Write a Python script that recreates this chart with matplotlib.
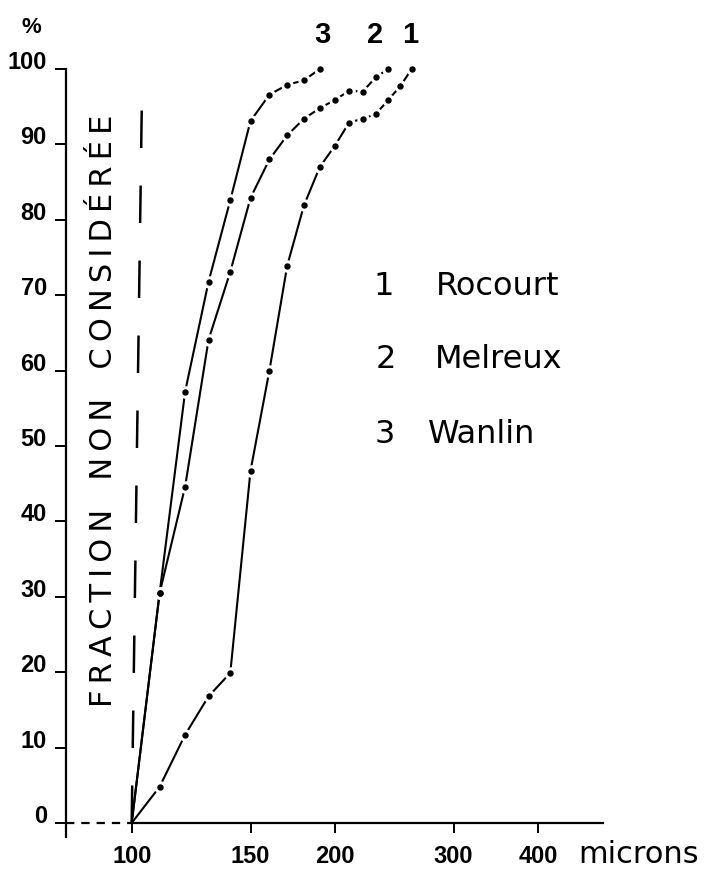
import matplotlib
matplotlib.use("Agg")
import matplotlib.pyplot as plt
from matplotlib.font_manager import FontProperties
from matplotlib.ticker import NullLocator

# sieve sizes (microns) and cumulative % for the three sites
x_rocourt = [100, 110, 120, 130, 140, 150, 160, 170, 180, 190, 200, 210, 220, 230, 240, 250, 260]
y_rocourt = [0, 4.8, 11.7, 16.8, 19.9, 46.7, 60.0, 73.9, 81.9, 87.0, 89.8, 92.9, 93.4, 94.0, 95.9, 97.7, 100]

x_melreux = [100, 110, 120, 130, 140, 150, 160, 170, 180, 190, 200, 210, 220, 230, 240]
y_melreux = [0, 30.5, 44.6, 64.1, 73.1, 82.9, 88.0, 91.2, 93.4, 94.8, 95.9, 97.1, 97.0, 98.9, 100]

x_wanlin = [100, 110, 120, 130, 140, 150, 160, 170, 180, 190]
y_wanlin = [0, 30.5, 57.2, 71.8, 82.6, 93.1, 96.6, 97.9, 98.5, 100]

x_ticks = [100, 150, 200, 300, 400]
y_ticks = [0, 10, 20, 30, 40, 50, 60, 70, 80, 90, 100]
names = ["Rocourt", "Melreux", "Wanlin"]

W, H = 719, 873
plt.rcParams["lines.scale_dashes"] = False


def num_font(size):
    return FontProperties(family=["Liberation Sans", "DejaVu Sans"], weight="bold", size=size)


fig = plt.figure(figsize=(W / 100, H / 100), dpi=100)
ax = fig.add_axes([66.3 / W, 1 - 837 / H, 537 / W, 768 / H])
ax.set_xscale("log")
ax.set_xlim(80, 500)
ax.set_ylim(-1.86, 100)

for s in ["top", "right"]:
    ax.spines[s].set_visible(False)
ax.spines["left"].set_linewidth(1.6)
ax.spines["bottom"].set_linewidth(1.6)
ax.spines["bottom"].set_position(("data", 0))
ax.spines["bottom"].set_bounds(100, 500)
ax.plot([80, 100], [0, 0], color="k", lw=1.6, ls=(0, (6, 5)), clip_on=False)

ax.xaxis.set_minor_locator(NullLocator())
ax.set_xticks(x_ticks, [str(v) for v in x_ticks])
ax.set_yticks(y_ticks, [str(v) for v in y_ticks])
ax.tick_params(axis="x", direction="out", length=7, width=1.4, pad=9)
ax.tick_params(axis="y", direction="out", length=8, width=1.4, pad=6)
for lbl in ax.get_xticklabels() + ax.get_yticklabels():
    lbl.set_fontproperties(num_font(17))
for lbl in ax.get_yticklabels():
    lbl.set_va("baseline")

# "fraction non considérée" boundary
ax.plot([100, 103.5], [0, 95], color="k", lw=1.8, ls=(0, (27, 27)), clip_on=False)

for xs, ys in [(x_rocourt, y_rocourt), (x_melreux, y_melreux), (x_wanlin, y_wanlin)]:
    ax.plot(xs, ys, color="k", lw=1.5, clip_on=False, zorder=2)
    ax.plot(xs[1:], ys[1:], "o", color="white", ms=8, clip_on=False, zorder=3)
    ax.plot(xs[1:], ys[1:], "o", color="k", ms=3.6, clip_on=False, zorder=4)


def ftext(x, y, s, **kw):
    fig.text(x / W, 1 - y / H, s, **kw)


ftext(31, 33, "%", ha="center", va="baseline", fontproperties=num_font(16))
for lab, xc in [("3", 322), ("2", 375), ("1", 410)]:
    ftext(xc, 43, lab, ha="center", va="baseline", fontproperties=num_font(21))

for i, (name, xn, yb, xc) in enumerate(zip(names, [436, 435, 428], [295, 368, 443], [384, 386, 385])):
    ftext(xc, yb, str(i + 1), ha="center", va="baseline", fontsize=23)
    ftext(xn, yb, name, ha="left", va="baseline", fontsize=23)

ftext(578, 863, "microns", ha="left", va="baseline", fontsize=22)

label = "\u2009".join("FRACTION") + "   " + "\u2009".join("NON") + "   " + "\u2009".join("CONSIDÉRÉE")
ftext(104, 411, label, ha="center", va="center", rotation=90, fontsize=22)

fig.savefig("out.png", dpi=100)
